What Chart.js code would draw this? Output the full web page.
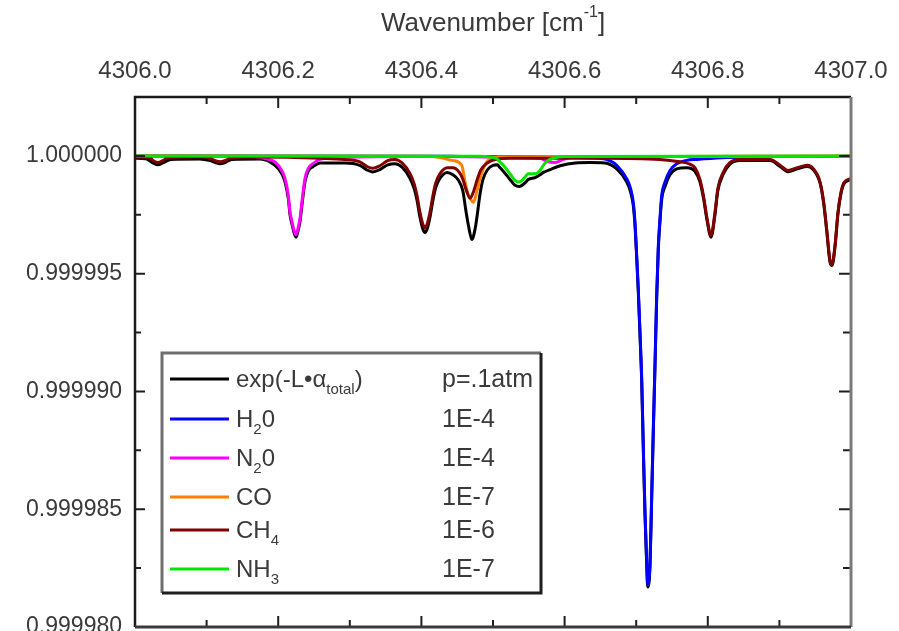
<!DOCTYPE html>
<html>
<head>
<meta charset="utf-8">
<script src="https://cdn.jsdelivr.net/npm/chart.js@4.4.0/dist/chart.umd.min.js"></script>
<style>
  html, body { margin: 0; padding: 0; background: #fff; }
</style>
</head>
<body>
<canvas id="chart" width="899" height="631"></canvas>
<script>
// tick values
var xTickValues = [4306.0, 4306.2, 4306.4, 4306.6, 4306.8, 4307.0];
var yTickValues = [0.999980, 0.999985, 0.999990, 0.999995, 1.000000];

// line depth below 1 (units of 1e-6)
var totalWn = [4306.000, 4306.015, 4306.025, 4306.032, 4306.039, 4306.050, 4306.090, 4306.105, 4306.112, 4306.119,
  4306.126, 4306.135, 4306.175, 4306.1955, 4306.2049, 4306.2095, 4306.2141, 4306.2165, 4306.2189, 4306.2225,
  4306.2249, 4306.2267, 4306.2304, 4306.2337, 4306.2374, 4306.2420, 4306.2490, 4306.2584, 4306.293, 4306.314,
  4306.324, 4306.332, 4306.342, 4306.353, 4306.363, 4306.373, 4306.384, 4306.390, 4306.394, 4306.398,
  4306.402, 4306.405, 4306.408, 4306.412, 4306.416, 4306.420, 4306.426, 4306.436, 4306.444, 4306.451,
  4306.458, 4306.462, 4306.466, 4306.4705, 4306.475, 4306.478, 4306.482, 4306.486, 4306.492, 4306.500,
  4306.506, 4306.5098, 4306.5144, 4306.5237, 4306.5307, 4306.5367, 4306.5447, 4306.5493, 4306.5587, 4306.5656,
  4306.5703, 4306.580, 4306.594, 4306.615, 4306.635, 4306.656, 4306.6728, 4306.6867, 4306.6923, 4306.6959,
  4306.6983, 4306.7007, 4306.7029, 4306.7053, 4306.7077, 4306.7099, 4306.7123, 4306.7147, 4306.7161, 4306.7193,
  4306.7216, 4306.7239, 4306.7263, 4306.7286, 4306.7309, 4306.7332, 4306.7356, 4306.7402, 4306.7472, 4306.7566,
  4306.7705, 4306.782, 4306.789, 4306.794, 4306.799, 4306.8045, 4306.810, 4306.814, 4306.8215, 4306.831,
  4306.845, 4306.887, 4306.901, 4306.912, 4306.925, 4306.939, 4306.947, 4306.957, 4306.962, 4306.966,
  4306.971, 4306.9735, 4306.9777, 4306.9818, 4306.986, 4306.9902, 4307.000];
var totalDepth = [0.10, 0.12, 0.30, 0.38, 0.30, 0.15, 0.13, 0.20, 0.28, 0.33,
  0.28, 0.15, 0.13, 0.40, 0.75, 1.10, 1.80, 2.50, 2.85, 3.30,
  3.45, 3.30, 2.80, 1.95, 1.10, 0.65, 0.45, 0.30, 0.30, 0.40,
  0.60, 0.68, 0.58, 0.38, 0.33, 0.48, 0.95, 1.40, 1.90, 2.60,
  3.10, 3.25, 3.10, 2.60, 1.90, 1.35, 0.95, 0.70, 0.80, 1.00,
  1.50, 2.30, 3.00, 3.55, 3.10, 2.50, 1.60, 1.00, 0.60, 0.40,
  0.38, 0.50, 0.65, 1.00, 1.25, 1.30, 1.15, 1.00, 0.92, 0.80,
  0.70, 0.58, 0.42, 0.30, 0.28, 0.30, 0.55, 1.10, 1.55, 2.10,
  2.95, 4.35, 5.75, 7.60, 9.60, 12.40, 15.25, 17.40, 18.30, 17.40,
  14.55, 11.70, 8.90, 6.05, 3.95, 2.80, 1.85, 1.30, 0.80, 0.55,
  0.50, 0.65, 1.10, 1.80, 2.75, 3.45, 2.50, 1.48, 0.78, 0.35,
  0.20, 0.20, 0.45, 0.67, 0.55, 0.45, 0.58, 1.18, 2.05, 3.15,
  4.55, 4.65, 3.85, 2.45, 1.60, 1.18, 1.00];

var h2oWn = [4306.000, 4306.440, 4306.594, 4306.649, 4306.663, 4306.6728, 4306.6867, 4306.6923, 4306.6959, 4306.6983,
  4306.7007, 4306.7029, 4306.7053, 4306.7077, 4306.7099, 4306.7123, 4306.7147, 4306.7161, 4306.7193, 4306.7216,
  4306.7239, 4306.7263, 4306.7286, 4306.7309, 4306.7332, 4306.7356, 4306.7402, 4306.7472, 4306.7566, 4306.7705,
  4306.7845, 4306.820, 4306.900, 4307.000];
var h2oDepth = [0, 0.02, 0.05, 0.10, 0.20, 0.40, 0.97, 1.40, 1.97, 2.82,
  4.23, 5.64, 7.50, 9.47, 12.32, 15.15, 17.29, 18.20, 17.29, 14.45,
  11.60, 8.77, 5.94, 3.81, 2.66, 1.68, 1.11, 0.62, 0.33, 0.19,
  0.15, 0.08, 0.03, 0.02];

var n2oWn = [4306.000, 4306.150, 4306.180, 4306.1955, 4306.2049, 4306.2095, 4306.2141, 4306.2165, 4306.2189, 4306.2225,
  4306.2249, 4306.2267, 4306.2304, 4306.2337, 4306.2374, 4306.2420, 4306.2490, 4306.2584, 4306.290, 4306.400,
  4306.566, 4306.577, 4306.5866, 4306.598, 4306.615, 4307.000];
var n2oDepth = [0, 0.02, 0.10, 0.26, 0.62, 0.96, 1.68, 2.39, 2.74, 3.20,
  3.35, 3.20, 2.66, 1.81, 0.96, 0.53, 0.32, 0.15, 0.06, 0.03,
  0.10, 0.25, 0.28, 0.15, 0.04, 0.01];

var coWn = [4306.000, 4306.412, 4306.4441, 4306.4563, 4306.4609, 4306.4651, 4306.4690, 4306.4725, 4306.4772, 4306.4818,
  4306.4865, 4306.4930, 4306.510, 4307.000];
var coDepth = [0, 0.02, 0.20, 0.40, 1.10, 1.60, 1.85, 1.97, 1.54, 0.97,
  0.54, 0.20, 0.05, 0];

var ch4Wn = [4306.000, 4306.021, 4306.025, 4306.032, 4306.039, 4306.046, 4306.091, 4306.105, 4306.112, 4306.119,
  4306.126, 4306.135, 4306.175, 4306.258, 4306.293, 4306.314, 4306.324, 4306.332, 4306.342, 4306.353,
  4306.363, 4306.373, 4306.384, 4306.390, 4306.394, 4306.398, 4306.402, 4306.405, 4306.408, 4306.412,
  4306.416, 4306.420, 4306.426, 4306.436, 4306.444, 4306.453, 4306.458, 4306.462, 4306.468, 4306.473,
  4306.478, 4306.483, 4306.492, 4306.503, 4306.524, 4306.649, 4306.733, 4306.761, 4306.775, 4306.782,
  4306.789, 4306.794, 4306.799, 4306.8045, 4306.810, 4306.814, 4306.8215, 4306.831, 4306.845, 4306.887,
  4306.901, 4306.912, 4306.925, 4306.939, 4306.947, 4306.957, 4306.962, 4306.966, 4306.971, 4306.9735,
  4306.9777, 4306.9818, 4306.986, 4306.9902, 4307.000];
var ch4Depth = [0.05, 0.08, 0.20, 0.28, 0.20, 0.08, 0.05, 0.10, 0.20, 0.25,
  0.20, 0.08, 0.05, 0.10, 0.15, 0.25, 0.45, 0.53, 0.42, 0.20,
  0.15, 0.30, 0.75, 1.20, 1.70, 2.40, 2.90, 3.05, 2.90, 2.40,
  1.70, 1.15, 0.75, 0.50, 0.50, 0.70, 1.00, 1.40, 1.80, 1.50,
  1.00, 0.60, 0.30, 0.15, 0.10, 0.10, 0.15, 0.25, 0.35, 0.50,
  1.00, 1.70, 2.66, 3.38, 2.40, 1.38, 0.70, 0.28, 0.15, 0.15,
  0.40, 0.62, 0.50, 0.40, 0.53, 1.13, 2.00, 3.10, 4.50, 4.60,
  3.80, 2.40, 1.55, 1.13, 0.96];

var nh3Wn = [4306.000, 4306.480, 4306.5052, 4306.5098, 4306.5144, 4306.5237, 4306.5307, 4306.5367, 4306.5447, 4306.5493,
  4306.5587, 4306.5656, 4306.5703, 4306.5772, 4306.5820, 4306.600, 4307.000];
var nh3Depth = [0, 0.02, 0.12, 0.26, 0.40, 0.76, 1.04, 1.11, 0.90, 0.76,
  0.76, 0.62, 0.40, 0.19, 0.12, 0.03, 0];

// legend text: [text, 'n' | 'sub']
var legendNames = [
    [['exp(-L\u2022\u03b1', 'n'], ['total', 'sub'], [')', 'n']],
    [['H', 'n'], ['2', 'sub'], ['0', 'n']],
    [['N', 'n'], ['2', 'sub'], ['0', 'n']],
    [['CO', 'n']],
    [['CH', 'n'], ['4', 'sub']],
    [['NH', 'n'], ['3', 'sub']]
];
var legendValues = ['p=.1atm', '1E-4', '1E-4', '1E-7', '1E-6', '1E-7'];
var lineColors = ['#000000', '#0000ff', '#ff00ff', '#ff8000', '#800000', '#00e600'];

function toPoints(wn, depth) {
    return wn.map(function(w, i) { return { x: w, y: 1 - depth[i] * 1e-6 }; });
}

var FONT = "'Liberation Sans', Arial, sans-serif";
var TEXT = '#3a3a3a';

function drawParts(ctx, parts, x, y, size) {
    parts.forEach(function(p) {
        if (p[1] === 'sub') {
            ctx.font = Math.round(size * 0.62) + 'px ' + FONT;
            ctx.fillText(p[0], x, y + size * 0.42);
        } else if (p[1] === 'sup') {
            ctx.font = Math.round(size * 0.62) + 'px ' + FONT;
            ctx.fillText(p[0], x, y - size * 0.42);
        } else {
            ctx.font = size + 'px ' + FONT;
            ctx.fillText(p[0], x, y);
        }
        x += ctx.measureText(p[0]).width;
    });
    return x;
}

var framePlugin = {
    id: 'frame',
    afterDatasetsDraw: function(chart) {
        var ctx = chart.ctx, a = chart.chartArea;
        var xs = chart.scales.x, ys = chart.scales.y;
        ctx.save();
        ctx.strokeStyle = '#1e1e1e';
        ctx.lineWidth = 2;
        ctx.beginPath();
        xTickValues.forEach(function(v, i) {
            var px = xs.getPixelForValue(v);
            ctx.moveTo(px, a.top); ctx.lineTo(px, a.top + 11);
            ctx.moveTo(px, a.bottom); ctx.lineTo(px, a.bottom - 11);
            if (i < xTickValues.length - 1) {
                var mx = xs.getPixelForValue((v + xTickValues[i + 1]) / 2);
                ctx.moveTo(mx, a.top); ctx.lineTo(mx, a.top + 7);
                ctx.moveTo(mx, a.bottom); ctx.lineTo(mx, a.bottom - 7);
            }
        });
        yTickValues.forEach(function(v, i) {
            var py = ys.getPixelForValue(v);
            ctx.moveTo(a.left, py); ctx.lineTo(a.left + 10, py);
            ctx.moveTo(a.right, py); ctx.lineTo(a.right - 12, py);
            if (i < yTickValues.length - 1) {
                var my = ys.getPixelForValue((v + yTickValues[i + 1]) / 2);
                ctx.moveTo(a.left, my); ctx.lineTo(a.left + 6, my);
                ctx.moveTo(a.right, my); ctx.lineTo(a.right - 8, my);
            }
        });
        ctx.stroke();

        ctx.lineWidth = 2.5;
        ctx.strokeStyle = '#1a1a1a';
        ctx.beginPath();
        ctx.moveTo(a.left, a.bottom); ctx.lineTo(a.left, a.top); ctx.lineTo(a.right, a.top);
        ctx.stroke();
        ctx.lineWidth = 3;
        ctx.strokeStyle = '#7a7a7a';
        ctx.beginPath();
        ctx.moveTo(a.right, a.top); ctx.lineTo(a.right, a.bottom);
        ctx.stroke();
        ctx.strokeStyle = '#3a3a3a';
        ctx.beginPath();
        ctx.moveTo(a.left, a.bottom); ctx.lineTo(a.right, a.bottom);
        ctx.stroke();
        ctx.restore();
    },
    afterDraw: function(chart) {
        var ctx = chart.ctx, a = chart.chartArea;
        ctx.save();
        ctx.fillStyle = TEXT;
        ctx.textBaseline = 'middle';
        ctx.textAlign = 'left';

        // axis title with superscript
        var titleParts = [['Wavenumber [cm', 'n'], ['-1', 'sup'], [']', 'n']];
        ctx.globalAlpha = 0;
        var w = drawParts(ctx, titleParts, 0, -100, 26);
        ctx.globalAlpha = 1;
        drawParts(ctx, titleParts, (a.left + a.right) / 2 - w / 2, 24, 26);

        // legend box
        var bx = 162, by = 353, bw = 379, bh = 240;
        ctx.fillStyle = '#ffffff';
        ctx.fillRect(bx, by, bw, bh);
        ctx.lineWidth = 3;
        ctx.strokeStyle = '#6e6e6e';
        ctx.beginPath();
        ctx.moveTo(bx, by + bh); ctx.lineTo(bx, by); ctx.lineTo(bx + bw, by);
        ctx.stroke();
        ctx.strokeStyle = '#1e1e1e';
        ctx.beginPath();
        ctx.moveTo(bx + bw, by); ctx.lineTo(bx + bw, by + bh); ctx.lineTo(bx, by + bh);
        ctx.stroke();

        var rows = [379, 419, 458, 497, 530, 569];
        rows.forEach(function(ry, i) {
            ctx.strokeStyle = lineColors[i];
            ctx.lineWidth = 3;
            ctx.beginPath();
            ctx.moveTo(170, ry); ctx.lineTo(229, ry);
            ctx.stroke();
            ctx.fillStyle = TEXT;
            drawParts(ctx, legendNames[i], 236, ry + 1, 24);
            ctx.font = '25px ' + FONT;
            ctx.fillText(legendValues[i], 442, ry + 1);
        });
        ctx.restore();
    }
};

var series = [
    { label: 'NH3', wn: nh3Wn, depth: nh3Depth, color: lineColors[5] },
    { label: 'CH4', wn: ch4Wn, depth: ch4Depth, color: lineColors[4] },
    { label: 'CO', wn: coWn, depth: coDepth, color: lineColors[3] },
    { label: 'N2O', wn: n2oWn, depth: n2oDepth, color: lineColors[2] },
    { label: 'H2O', wn: h2oWn, depth: h2oDepth, color: lineColors[1] },
    { label: 'total', wn: totalWn, depth: totalDepth, color: lineColors[0] }
];

var ctx = document.getElementById('chart').getContext('2d');

var chart = new Chart(ctx, {
    type: 'line',
    data: {
        datasets: series.map(function(s) {
            return {
                label: s.label,
                data: toPoints(s.wn, s.depth),
                borderColor: s.color,
                borderWidth: 3,
                pointRadius: 0,
                fill: false,
                cubicInterpolationMode: 'monotone'
            };
        })
    },
    options: {
        responsive: false,
        animation: false,
        devicePixelRatio: 1,
        layout: { padding: { left: 0, right: 48, top: 0, bottom: 4 } },
        plugins: {
            legend: { display: false },
            tooltip: { enabled: false }
        },
        scales: {
            x: {
                type: 'linear',
                position: 'top',
                min: 4306.0,
                max: 4307.0,
                grid: { display: false, drawTicks: false },
                border: { display: false },
                afterFit: function(scale) { scale.height = 97; },
                afterBuildTicks: function(scale) {
                    scale.ticks = xTickValues.map(function(v) { return { value: v }; });
                },
                ticks: {
                    autoSkip: false,
                    maxRotation: 0,
                    padding: 11,
                    color: TEXT,
                    font: { family: FONT, size: 24 },
                    callback: function(v) { return Number(v).toFixed(1); }
                }
            },
            y: {
                type: 'linear',
                min: 0.99998,
                max: 1.0000025,
                grid: { display: false, drawTicks: false },
                border: { display: false },
                afterFit: function(scale) {
                    scale.width = 135;
                    scale.paddingTop = 0;
                    scale.paddingBottom = 0;
                },
                afterBuildTicks: function(scale) {
                    scale.ticks = yTickValues.map(function(v) { return { value: v }; });
                },
                ticks: {
                    autoSkip: false,
                    padding: 13,
                    color: TEXT,
                    font: { family: FONT, size: 23 },
                    callback: function(v) { return Number(v).toFixed(6); }
                }
            }
        }
    },
    plugins: [framePlugin]
});
</script>
</body>
</html>
